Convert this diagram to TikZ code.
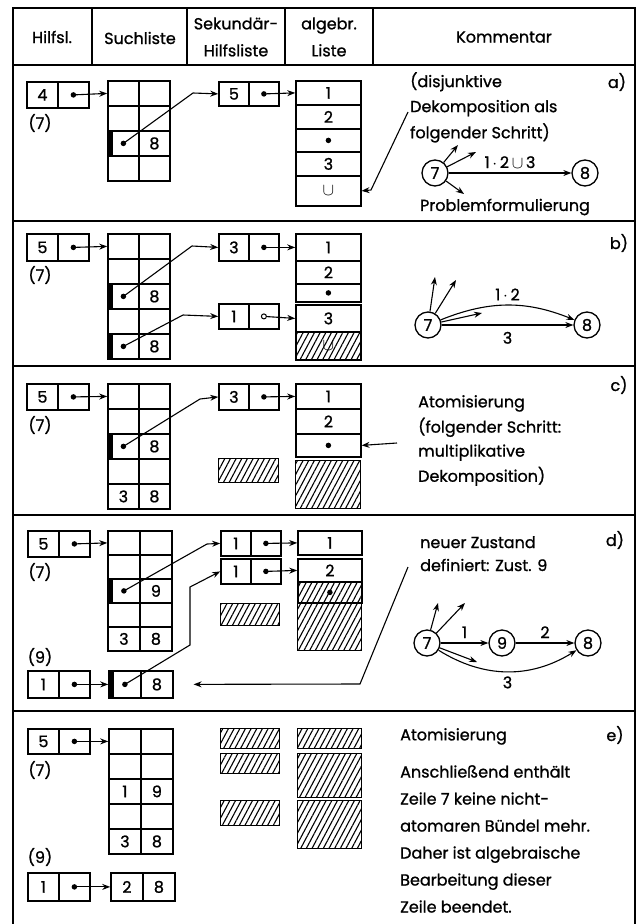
\documentclass[tikz,border=0pt]{standalone}
\usepackage{fontspec}
\setmainfont{Poppins}[FakeBold=1]
\usetikzlibrary{arrows.meta,positioning,matrix,patterns.meta}
\newcommand\zellschrift{\fontsize{16}{19}\selectfont}
\newcommand\kopfschrift{\fontsize{16}{27}\selectfont}
\tikzset{
  rahmen/.style={line width=2pt},
  liste/.style={matrix of nodes,anchor=north west,inner sep=0pt,column sep=-1.4pt,row sep=-1.4pt,
                nodes in empty cells,
                nodes={draw,line width=1.4pt,minimum width=31pt,minimum height=25pt,inner sep=0pt,
                       anchor=center,font=\zellschrift}},
  zeiger/.style={path picture={\fill (path picture bounding box.north west) rectangle
                 ([xshift=5pt]path picture bounding box.south west);}},
  feld/.style={draw,line width=1.4pt,anchor=north west,inner sep=0pt,
               pattern={Lines[angle=62,distance=5pt,line width=1.1pt]}},
  pont/.style={circle,fill,inner sep=0pt,minimum size=5.5pt},
  ring/.style={circle,draw,line width=1pt,inner sep=0pt,minimum size=5pt},
  zst/.style={circle,draw,line width=1.3pt,minimum size=26pt,inner sep=0pt,font=\zellschrift},
  pfeil/.style={-{Stealth[length=8pt,width=6pt]},line width=1.1pt},
  kopf/.style={align=center,font=\kopfschrift},
  kom/.style={anchor=north west,align=left,inner sep=0pt,font=\zellschrift},
  marke/.style={font=\zellschrift},
}
\begin{document}
\begin{tikzpicture}[x=1pt,y=-1pt]
  \useasboundingbox (0,0) rectangle (638,924);
  % Rahmen und Kopfzeile
  \draw[rahmen] (13,924) |- (635,8) -- (635,924);
  \draw[rahmen] (13,65) -- (635,65) (13,221) -- (635,221) (13,366) -- (635,366)
                (13,515) -- (635,515) (13,711) -- (635,711);
  \draw[rahmen] (92,8) -- (92,65) (187,8) -- (187,65) (285,8) -- (285,65) (373,8) -- (373,65);
  \node[kopf] (k1) at (52,37) {Hilfsl.};
  \node[kopf] (k2) at (140,38) {Suchliste};
  \node[kopf] (k3) at (236,37) {Sekundär-\\Hilfsliste};
  \node[kopf] (k4) at (329,37) {algebr.\\Liste};
  \node[kopf] (k5) at (504,37) {Kommentar};

  % a)
  \matrix[liste,nodes={minimum height=26pt}] (ha) at (26,81) {4 & \\};
  \node[pont] (pha) at (ha-1-2) {};
  \node[marke] (za) at (40,123) {(7)};
  \matrix[liste] (sa) at (107,80) { & \\ & \\ |[zeiger]| & 8 \\ & \\};
  \node[pont] (psa) at (sa-3-1) {};
  \matrix[liste,nodes={minimum width=30pt,minimum height=24pt}] (sha) at (218,81) {5 & \\};
  \node[pont] (psha) at (sha-1-2) {};
  \matrix[liste,nodes={minimum width=65pt,minimum height=24pt}] (aa) at (295,80)
    {1 \\ 2 \\ |[minimum height=23pt]| \\ 3 \\ |[minimum height=30pt]| $\cup$ \\};
  \node[pont] (paa) at (aa-3-1) {};
  \coordinate (ka) at (193,93);
  \draw[pfeil] (pha.center) -- (sa-1-1.west);
  \draw[pfeil] (psa.center) -- (ka) -- (sha-1-1.west);
  \draw[pfeil] (psha.center) -- (aa-1-1.west);
  \coordinate (ca) at (408,112);
  \draw[pfeil] (ca) -- (371,190) -- (aa-5-1.east);
  \node[kom] (ta) at (410,72) {(disjunktive\\[6pt]Dekomposition als\\[6pt]folgender Schritt)};
  \node[marke] (ma) at (617,82) {a)};
  \node[zst] (a7) at (435,173) {7};
  \node[zst] (a8) at (585,173) {8};
  \draw[pfeil] (a7) -- node[above=1pt,font=\zellschrift] {1\,$\cdot$\,2\,$\cup$\,3} (a8);
  \coordinate (sa1) at (458,145);
  \coordinate (sa2) at (476,152);
  \coordinate (sa3) at (464,194);
  \draw[pfeil] (a7) -- (sa1);
  \draw[pfeil] (a7) -- (sa2);
  \draw[pfeil] (a7) -- (sa3);
  \node[marke] (pra) at (505,207) {Problemformulierung};

  % b)
  \matrix[liste,nodes={minimum height=27pt}] (hb) at (26,233) {5 & \\};
  \node[pont] (phb) at (hb-1-2) {};
  \node[marke] (zb) at (40,275) {(7)};
  \matrix[liste] (sb) at (107,233) { & \\ & \\ |[zeiger]| & 8 \\ & \\ |[zeiger]| & 8 \\};
  \node[pont] (psb1) at (sb-3-1) {};
  \node[pont] (psb2) at (sb-5-1) {};
  \matrix[liste,nodes={minimum width=30pt,minimum height=27pt}] (shb1) at (218,233) {3 & \\};
  \node[pont] (pshb1) at (shb1-1-2) {};
  \matrix[liste,nodes={minimum width=30pt,minimum height=25pt}] (shb2) at (218,303) {1 & \\};
  \node[ring] (pshb2) at (shb2-1-2) {};
  \matrix[liste,nodes={minimum width=65pt}] (ab1) at (295,233)
    {|[minimum height=27pt]| 1 \\ |[minimum height=23pt]| 2 \\ |[minimum height=18pt]| \\};
  \node[pont] (pab1) at (ab1-3-1) {};
  \matrix[liste,nodes={minimum width=65pt}] (ab2) at (295,304)
    {|[minimum height=27pt]| 3 \\
     |[minimum height=28pt,pattern={Lines[angle=62,distance=5pt,line width=1.1pt]}]| $\cup$ \\};
  \coordinate (kb1) at (192,246);
  \coordinate (kb2) at (183,315);
  \draw[pfeil] (phb.center) -- (sb-1-1.west);
  \draw[pfeil] (psb1.center) -- (kb1) -- (shb1-1-1.west);
  \draw[pfeil] (psb2.center) -- (kb2) -- (shb2-1-1.west);
  \draw[pfeil] (pshb1.center) -- (ab1-1-1.west);
  \draw[pfeil] (pshb2) -- (ab2-1-1.west);
  \node[marke] (mb) at (619,243) {b)};
  \node[zst] (b7) at (428,325) {7};
  \node[zst] (b8) at (587,325) {8};
  \draw[pfeil] (b7) to[bend left=22] node[above=1pt,font=\zellschrift] {1\,$\cdot$\,2} (b8);
  \draw[pfeil] (b7) -- node[below=3pt,font=\zellschrift] {3} (b8);
  \coordinate (sb1) at (435,277);
  \coordinate (sb2) at (456,280);
  \coordinate (sb3) at (482,313);
  \draw[pfeil] (b7) -- (sb1);
  \draw[pfeil] (b7) -- (sb2);
  \draw[pfeil] (b7) -- (sb3);

  % c)
  \matrix[liste,nodes={minimum height=26pt}] (hc) at (26,383) {5 & \\};
  \node[pont] (phc) at (hc-1-2) {};
  \node[marke] (zc) at (40,425) {(7)};
  \matrix[liste] (sc) at (107,383) { & \\ & \\ |[zeiger]| & 8 \\ & \\ 3 & 8 \\};
  \node[pont] (psc) at (sc-3-1) {};
  \matrix[liste,nodes={minimum width=30pt,minimum height=26pt}] (shc) at (218,383) {3 & \\};
  \node[pont] (pshc) at (shc-1-2) {};
  \node[feld,minimum width=60pt,minimum height=24pt] (fc1) at (218,458) {};
  \matrix[liste,nodes={minimum width=65pt,minimum height=25pt}] (ac) at (295,383)
    {1 \\ 2 \\ |[minimum height=23pt]| \\};
  \node[pont] (pac) at (ac-3-1) {};
  \node[feld,minimum width=65pt,minimum height=48pt] (fc2) at (295,460) {};
  \coordinate (kc) at (200,399);
  \draw[pfeil] (phc.center) -- (sc-1-1.west);
  \draw[pfeil] (psc.center) -- (kc) -- (shc-1-1.west);
  \draw[pfeil] (pshc.center) -- (ac-1-1.west);
  \coordinate (cc) at (397,443);
  \draw[pfeil] (cc) -- (ac-3-1.east);
  \node[kom] (tc) at (418,395) {Atomisierung\\[5pt](folgender Schritt:\\[5pt]multiplikative\\[5pt]Dekomposition)};
  \node[marke] (mc) at (619,385) {c)};

  % d)
  \matrix[liste,nodes={minimum height=26pt}] (hd) at (27,530) {5 & \\};
  \node[pont] (phd) at (hd-1-2) {};
  \node[marke] (zd) at (40,572) {(7)};
  \matrix[liste,nodes={minimum width=32pt,minimum height=24pt}] (sd) at (107,530)
    { & \\ & \\ |[zeiger]| & 9 \\ & \\ 3 & 8 \\};
  \node[pont] (psd) at (sd-3-1) {};
  \node[marke] (zd9) at (40,657) {(9)};
  \matrix[liste,nodes={minimum height=27pt}] (hd9) at (27,670) {1 & \\};
  \node[pont] (phd9) at (hd9-1-2) {};
  \matrix[liste,nodes={minimum width=32pt,minimum height=27pt}] (sd9) at (108,670) {|[zeiger]| & 8 \\};
  \node[pont] (psd9) at (sd9-1-1) {};
  \matrix[liste,nodes={minimum width=30pt,minimum height=25pt}] (shd1) at (220,530) {1 & \\};
  \node[pont] (pshd1) at (shd1-1-2) {};
  \matrix[liste,nodes={minimum width=30pt,minimum height=25pt}] (shd2) at (220,558) {1 & \\};
  \node[pont] (pshd2) at (shd2-1-2) {};
  \node[feld,minimum width=59pt,minimum height=22pt] (fd1) at (220,603) {};
  \matrix[liste,nodes={minimum width=64pt,minimum height=24pt}] (ad1) at (297,530) {1 \\};
  \matrix[liste,nodes={minimum width=64pt}] (ad2) at (297,558)
    {|[minimum height=23pt]| 2 \\
     |[minimum height=21pt,pattern={Lines[angle=62,distance=5pt,line width=1.1pt]}]| \\};
  \node[pont] (pad2) at (ad2-2-1) {};
  \node[feld,minimum width=64pt,minimum height=47pt] (fd2) at (297,603) {};
  \coordinate (kd1) at (207,544);
  \coordinate (kd2) at (190,645);
  \coordinate (kd3) at (190,587);
  \draw[pfeil] (phd.center) -- (sd-1-1.west);
  \draw[pfeil] (phd9.center) -- (sd9-1-1.west);
  \draw[pfeil] (psd.center) -- (kd1) -- (shd1-1-1.west);
  \draw[pfeil] (psd9.center) -- (kd2) -- (kd3) -- (shd2-1-1.west);
  \draw[pfeil] (pshd1.center) -- (ad1-1-1.west);
  \draw[pfeil] (pshd2.center) -- (ad2-1-1.west);
  \coordinate (cd) at (408,567);
  \draw[pfeil,shorten >=20pt] (cd) -- (360,684) -- (sd9-1-2.east);
  \node[kom] (td) at (420,536) {neuer Zustand\\[4pt]definiert: Zust. 9};
  \node[marke] (md) at (615,540) {d)};
  \node[zst] (d7) at (427,643) {7};
  \node[zst] (d9) at (502,643) {9};
  \node[zst] (d8) at (588,643) {8};
  \draw[pfeil] (d7) -- node[above=1pt,font=\zellschrift] {1} (d9);
  \draw[pfeil] (d9) -- node[above=1pt,font=\zellschrift] {2} (d8);
  \draw[pfeil] (d7) to[bend right=32] node[below=1pt,font=\zellschrift] {3} (d8);
  \coordinate (sd1) at (438,603);
  \coordinate (sd2) at (465,603);
  \coordinate (sd3) at (477,662);
  \draw[pfeil] (d7) -- (sd1);
  \draw[pfeil] (d7) -- (sd2);
  \draw[pfeil] (d7) -- (sd3);

  % e)
  \matrix[liste,nodes={minimum height=25pt}] (he) at (27,728) {5 & \\};
  \node[pont] (phe) at (he-1-2) {};
  \node[marke] (ze) at (40,770) {(7)};
  \matrix[liste,nodes={minimum width=32pt,minimum height=25pt}] (se) at (108,728)
    { & \\ & \\ 1 & 9 \\ & \\ 3 & 8 \\};
  \node[marke] (ze9) at (40,857) {(9)};
  \matrix[liste,nodes={minimum height=28pt}] (he9) at (27,872) {1 & \\};
  \node[pont] (phe9) at (he9-1-2) {};
  \matrix[liste,nodes={minimum width=32pt,minimum height=28pt}] (se9) at (110,872) {2 & 8 \\};
  \node[feld,minimum width=59pt,minimum height=20pt] (fe1) at (220,728) {};
  \node[feld,minimum width=59pt,minimum height=20pt] (fe2) at (220,753) {};
  \node[feld,minimum width=59pt,minimum height=25pt] (fe3) at (220,800) {};
  \node[feld,minimum width=64pt,minimum height=20pt] (fe4) at (297,728) {};
  \node[feld,minimum width=64pt,minimum height=44pt] (fe5) at (297,753) {};
  \node[feld,minimum width=64pt,minimum height=48pt] (fe6) at (297,800) {};
  \draw[pfeil] (phe.center) -- (se-1-1.west);
  \draw[pfeil] (phe9.center) -- (se9-1-1.west);
  \node[kom] (te1) at (400,728) {Atomisierung};
  \node[marke] (me) at (615,735) {e)};
  \node[kom] (te2) at (400,765) {Anschließend enthält\\[8pt]Zeile 7 keine nicht-\\[8pt]atomaren Bündel mehr.\\[8pt]Daher ist algebraische\\[8pt]Bearbeitung dieser\\[8pt]Zeile beendet.};
\end{tikzpicture}
\end{document}
